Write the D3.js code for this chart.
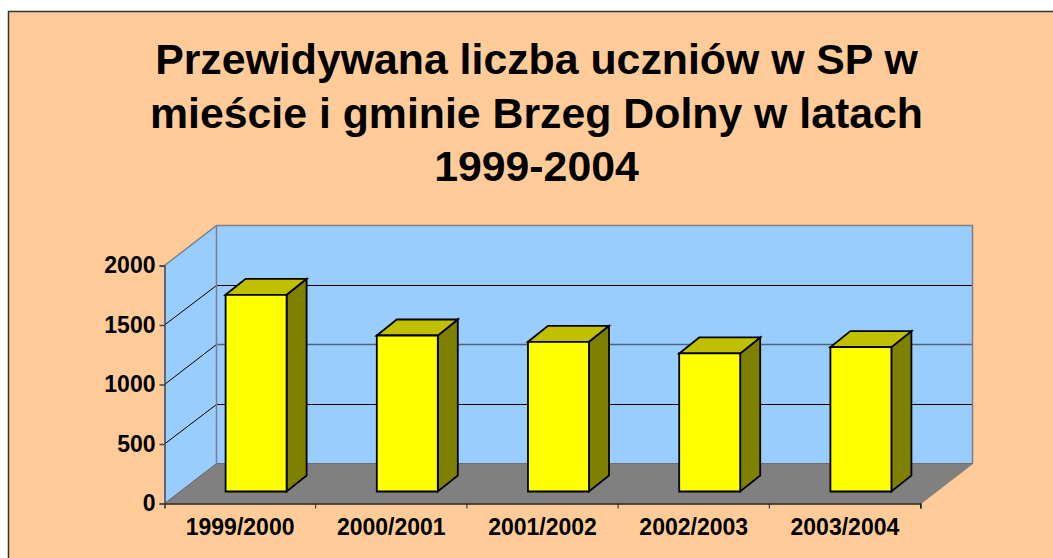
<!DOCTYPE html>
<html>
<head>
<meta charset="utf-8">
<script src="https://cdnjs.cloudflare.com/ajax/libs/d3/7.8.5/d3.min.js"></script>
<style>
    html, body { margin: 0; padding: 0; background: #fff; overflow: hidden; }
    text { font-family: "Liberation Sans", Arial, sans-serif; font-weight: bold; fill: #000; }
</style>
</head>
<body>
<div id="chart"></div>
<script>
// Chart data
const categories = ["1999/2000", "2000/2001", "2001/2002", "2002/2003", "2003/2004"];
const values = [1653, 1311, 1258, 1160, 1213];
const yTicks = [0, 500, 1000, 1500, 2000];
const titleLines = [
    "Przewidywana liczba uczniów w SP w",
    "mieście i gminie Brzeg Dolny w latach",
    "1999-2004"
];

const width = 1053, height = 558;

// Front plane of the plot and the 3D depth offset of the back wall
const plot = { left: 164.5, right: 920.5, top: 265.5, bottom: 503.5 };
const depth = { x: 52, y: -40 };
// Bars stand in the middle of the floor
const barDepth = { x: 20, y: -16 };
const barOffset = { x: 16, y: -12 };

const x = d3.scaleBand().domain(categories).range([plot.left, plot.right]);
const y = d3.scaleLinear().domain([0, 2000]).range([plot.bottom, plot.top]);
const barWidth = 61;

const svg = d3.select("#chart")
    .append("svg")
    .attr("width", width)
    .attr("height", height)
    .style("display", "block");

// Chart background
svg.append("rect")
    .attr("x", 8.5)
    .attr("y", 11.5)
    .attr("width", width)
    .attr("height", height)
    .attr("fill", "#ffcc99")
    .attr("stroke", "#333")
    .attr("stroke-width", 1.5);

// Title
svg.append("g").selectAll("text")
    .data(titleLines)
    .join("text")
    .attr("x", 536.5)
    .attr("y", (d, i) => 74 + i * 53.5)
    .attr("text-anchor", "middle")
    .attr("font-size", 42.8)
    .text(d => d);

const line = d3.line();
const polygon = (pts, fill, stroke, strokeWidth) => svg.append("path")
    .attr("d", line(pts) + "Z")
    .attr("fill", fill)
    .attr("stroke", stroke || "none")
    .attr("stroke-width", strokeWidth || 0)
    .attr("stroke-linejoin", "miter");

const y0 = y(0), y2000 = y(2000);

// Back wall, side wall and floor
polygon([
    [plot.left + depth.x, y2000 + depth.y], [plot.right + depth.x, y2000 + depth.y],
    [plot.right + depth.x, y0 + depth.y], [plot.left + depth.x, y0 + depth.y]
], "#99ccff");
polygon([
    [plot.left, y2000], [plot.left + depth.x, y2000 + depth.y],
    [plot.left + depth.x, y0 + depth.y], [plot.left, y0]
], "#99ccff");
polygon([
    [plot.left, y0], [plot.right, y0],
    [plot.right + depth.x, y0 + depth.y], [plot.left + depth.x, y0 + depth.y]
], "#808080");

// Gridlines on the side wall and back wall
const grid = svg.append("g");
yTicks.filter(d => d > 0 && d < 2000).forEach(d => {
    const backY = Math.floor(y(d) + depth.y) + 0.5;
    grid.append("line")
        .attr("x1", plot.left)
        .attr("x2", plot.left + depth.x)
        .attr("y1", y(d))
        .attr("y2", backY)
        .attr("stroke", "#000")
        .attr("stroke-width", 1);
    grid.append("line")
        .attr("x1", plot.left + depth.x)
        .attr("x2", plot.right + depth.x)
        .attr("y1", backY)
        .attr("y2", backY)
        .attr("stroke", d === 1000 ? "#4f6478" : "#000")
        .attr("stroke-width", d === 1000 ? 1.5 : 1);
});

// Wall outlines
svg.append("path")
    .attr("d", line([
        [plot.left, y2000],
        [plot.left + depth.x, y2000 + depth.y],
        [plot.right + depth.x, y2000 + depth.y],
        [plot.right + depth.x, y0 + depth.y],
        [plot.right, y0]
    ]))
    .attr("fill", "none")
    .attr("stroke", "#808080")
    .attr("stroke-width", 1.5);
svg.append("line")
    .attr("x1", plot.left + depth.x)
    .attr("x2", plot.left + depth.x)
    .attr("y1", y2000 + depth.y)
    .attr("y2", y0 + depth.y)
    .attr("stroke", "#808080")
    .attr("stroke-width", 1.5);
svg.append("line")
    .attr("x1", plot.left)
    .attr("x2", plot.left + depth.x)
    .attr("y1", y0)
    .attr("y2", y0 + depth.y)
    .attr("stroke", "#666")
    .attr("stroke-width", 1);
svg.append("line")
    .attr("x1", plot.left + depth.x)
    .attr("x2", plot.right + depth.x)
    .attr("y1", y0 + depth.y)
    .attr("y2", y0 + depth.y)
    .attr("stroke", "#6e6e6e")
    .attr("stroke-width", 1);

// Bars: side, top, then front
categories.forEach((c, i) => {
    const bx = x(c) + (x.bandwidth() - barWidth) / 2 + barOffset.x;
    const top = y(values[i]) + barOffset.y;
    const bottom = y0 + barOffset.y;
    const right = bx + barWidth;
    polygon([
        [right, top], [right + barDepth.x, top + barDepth.y],
        [right + barDepth.x, bottom + barDepth.y], [right, bottom]
    ], "#808000", "#000", 1.8);
    polygon([
        [bx, top], [bx + barDepth.x, top + barDepth.y],
        [right + barDepth.x, top + barDepth.y], [right, top]
    ], "#c0c000", "#000", 1.8);
    polygon([
        [bx, top], [right, top], [right, bottom], [bx, bottom]
    ], "#ffff00", "#000", 1.8);
});

// Axes
const xAxis = d3.axisBottom(x).tickSize(5).tickPadding(6)
    .tickValues(categories);
const xAxisG = svg.append("g")
    .attr("transform", `translate(0,${plot.bottom})`)
    .call(xAxis);
xAxisG.selectAll(".tick line").remove();
xAxisG.select(".domain").attr("stroke", "#222").attr("stroke-width", 1.5);
xAxisG.selectAll("text")
    .attr("font-size", 23)
    .attr("font-family", "Liberation Sans")
    .attr("y", 15);
// Tick marks sit between the categories
xAxisG.selectAll(".edge")
    .data(categories)
    .join("line")
    .attr("x1", d => x(d) + x.bandwidth())
    .attr("x2", d => x(d) + x.bandwidth())
    .attr("y1", 0)
    .attr("y2", 5)
    .attr("stroke", "#222");

const yAxis = d3.axisLeft(y).tickValues(yTicks).tickFormat(d3.format("d")).tickSize(5).tickPadding(4);
const yAxisG = svg.append("g")
    .attr("transform", `translate(${plot.left},0)`)
    .call(yAxis);
yAxisG.select(".domain").attr("stroke", "#444").attr("stroke-width", 1.5);
yAxisG.selectAll("line").attr("stroke", "#444").attr("stroke-width", 1.5);
yAxisG.selectAll("text")
    .attr("font-size", 23)
    .attr("font-family", "Liberation Sans");
</script>
</body>
</html>
